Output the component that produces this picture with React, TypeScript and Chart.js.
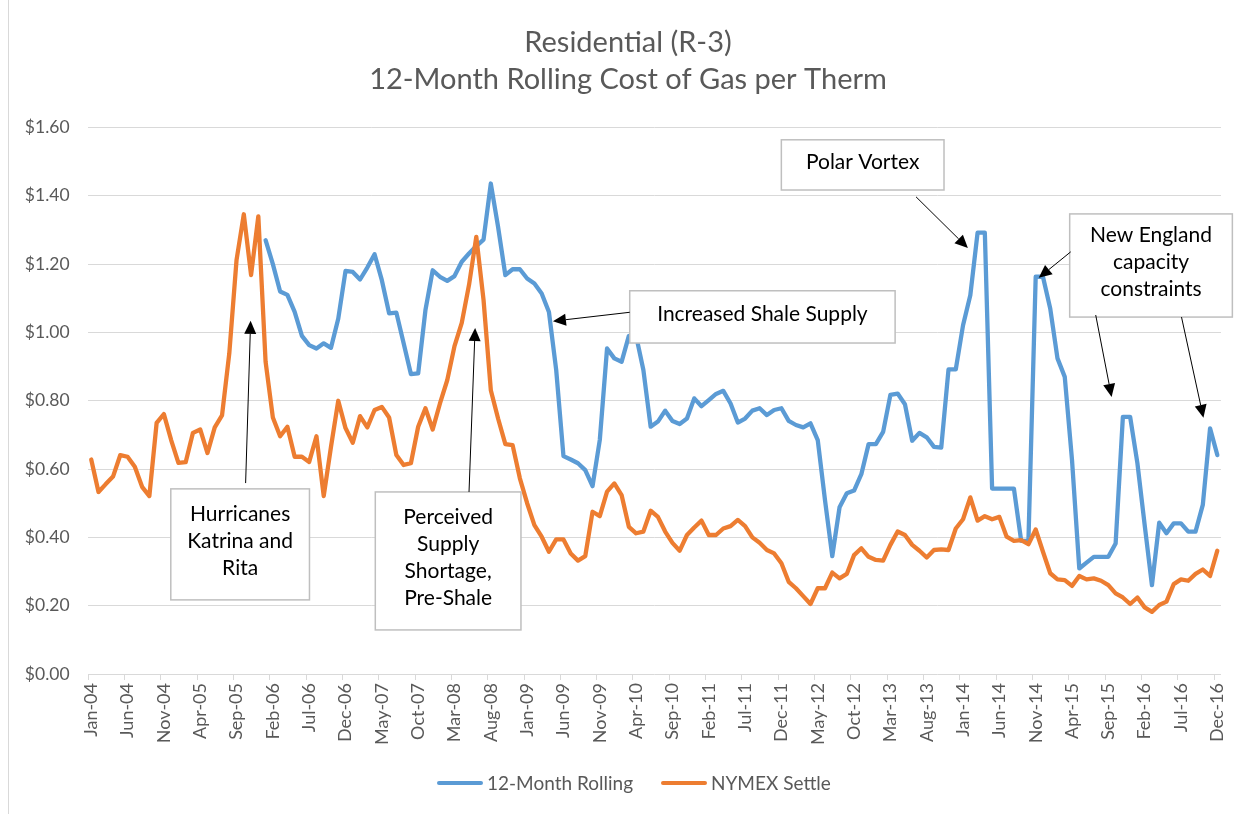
import React, { useEffect, useRef } from 'react';
import { Chart, registerables } from 'chart.js';

Chart.register(...registerables);

// ---------- data ----------
const MONTHS = ['Jan', 'Feb', 'Mar', 'Apr', 'May', 'Jun', 'Jul', 'Aug', 'Sep', 'Oct', 'Nov', 'Dec'];
const YEARS = ['04', '05', '06', '07', '08', '09', '10', '11', '12', '13', '14', '15', '16'];
const CATEGORIES: string[] = YEARS.flatMap((y) => MONTHS.map((m) => `${m}-${y}`));
const TICK_EVERY = 5;

const TITLE_LINES = ['Residential (R-3)', '12-Month Rolling Cost of Gas per Therm'];
const SERIES_NAMES = ['12-Month Rolling', 'NYMEX Settle'];

// 12-Month Rolling (starts Jan-06)
const ROLLING_12M: (number | null)[] = [
  null, null, null, null, null, null, null, null, null, null, null, null,
  null, null, null, null, null, null, null, null, null, null, null, null,
  // 2006
  1.27, 1.20, 1.12, 1.11, 1.06, 0.99, 0.963, 0.953, 0.968, 0.955, 1.04, 1.18,
  // 2007
  1.177, 1.155, 1.19, 1.229, 1.153, 1.056, 1.058, 0.968, 0.878, 0.88, 1.065, 1.182,
  // 2008
  1.163, 1.151, 1.165, 1.207, 1.231, 1.253, 1.272, 1.436, 1.309, 1.168, 1.185, 1.185,
  // 2009
  1.158, 1.143, 1.114, 1.06, 0.89, 0.638, 0.628, 0.617, 0.597, 0.55, 0.685, 0.953,
  // 2010
  0.924, 0.914, 0.99, 0.99, 0.89, 0.724, 0.739, 0.771, 0.741, 0.732, 0.748, 0.807,
  // 2011
  0.784, 0.802, 0.82, 0.829, 0.792, 0.736, 0.748, 0.771, 0.778, 0.758, 0.773, 0.778,
  // 2012
  0.741, 0.729, 0.722, 0.734, 0.685, 0.509, 0.345, 0.488, 0.529, 0.537, 0.585, 0.673,
  // 2013
  0.673, 0.709, 0.817, 0.821, 0.79, 0.683, 0.706, 0.693, 0.665, 0.663, 0.892, 0.892,
  // 2014
  1.021, 1.109, 1.292, 1.292, 0.543, 0.543, 0.543, 0.543, 0.39, 0.39, 1.163, 1.163,
  // 2015
  1.07, 0.924, 0.87, 0.626, 0.309, 0.326, 0.343, 0.343, 0.343, 0.382, 0.753, 0.753,
  // 2016
  0.617, 0.436, 0.26, 0.443, 0.412, 0.441, 0.441, 0.417, 0.417, 0.495, 0.719, 0.641,
];

const NYMEX_SETTLE: number[] = [
  // 2004
  0.628, 0.533, 0.556, 0.578, 0.641, 0.636, 0.607, 0.548, 0.521, 0.735, 0.761, 0.685,
  // 2005
  0.618, 0.62, 0.706, 0.716, 0.647, 0.722, 0.757, 0.938, 1.212, 1.346, 1.168, 1.34,
  // 2006
  0.914, 0.751, 0.696, 0.724, 0.636, 0.636, 0.621, 0.696, 0.521, 0.665, 0.8, 0.72,
  // 2007
  0.677, 0.755, 0.722, 0.773, 0.782, 0.751, 0.641, 0.612, 0.617, 0.724, 0.778, 0.716,
  // 2008
  0.792, 0.86, 0.96, 1.028, 1.139, 1.28, 1.095, 0.831, 0.748, 0.673, 0.67, 0.573,
  // 2009
  0.5, 0.436, 0.402, 0.358, 0.394, 0.394, 0.353, 0.332, 0.345, 0.475, 0.462, 0.534,
  // 2010
  0.558, 0.524, 0.431, 0.412, 0.417, 0.478, 0.46, 0.417, 0.384, 0.361, 0.407, 0.429,
  // 2011
  0.449, 0.407, 0.407, 0.426, 0.433, 0.451, 0.433, 0.4, 0.384, 0.363, 0.353, 0.324,
  // 2012
  0.27, 0.251, 0.228, 0.205, 0.251, 0.251, 0.297, 0.28, 0.293, 0.348, 0.368, 0.343,
  // 2013
  0.334, 0.332, 0.378, 0.417, 0.407, 0.378, 0.361, 0.341, 0.363, 0.365, 0.363, 0.426,
  // 2014
  0.453, 0.517, 0.449, 0.462, 0.453, 0.46, 0.402, 0.39, 0.392, 0.38, 0.423, 0.358,
  // 2015
  0.295, 0.277, 0.275, 0.258, 0.287, 0.277, 0.28, 0.273, 0.26, 0.236, 0.224, 0.205,
  // 2016
  0.224, 0.195, 0.182, 0.202, 0.212, 0.263, 0.277, 0.273, 0.293, 0.306, 0.287, 0.361,
];

const Y_MIN = 0;
const Y_MAX = 1.6;
const Y_STEP = 0.2;

// Annotations anchored in data coordinates (category index, $ value)
type Note = {
  lines: string[];
  box: [number, number, number, number]; // x1, yTop, x2, yBottom
  arrows: [number, number, number, number][]; // fromX, fromY, toX, toY
};
const NOTES: Note[] = [
  { lines: ['Hurricanes', 'Katrina and', 'Rita'], box: [10.95, 0.542, 30.04, 0.217], arrows: [[21.25, 0.559, 21.94, 1.034]] },
  { lines: ['Perceived', 'Supply', 'Shortage,', 'Pre-Shale'], box: [39.1, 0.533, 59.15, 0.129], arrows: [[52.0, 0.533, 52.84, 1.013]] },
  { lines: ['Increased Shale Supply'], box: [74.12, 1.122, 110.65, 0.969], arrows: [[74.12, 1.059, 63.55, 1.033]] },
  { lines: ['Polar Vortex'], box: [94.99, 1.564, 117.38, 1.417], arrows: [[113.53, 1.397, 120.67, 1.247]] },
  {
    lines: ['New England', 'capacity', 'constraints'],
    box: [134.68, 1.347, 157.07, 1.045],
    arrows: [
      [134.82, 1.236, 130.42, 1.16],
      [138.26, 1.051, 140.45, 0.811],
      [150.07, 1.045, 153.09, 0.75],
    ],
  },
];

// ---------- styles ----------
const FONT = 'Lato, "Open Sans", sans-serif';
const BLUE = '#5B9BD5';
const ORANGE = '#ED7D31';
const GRID = '#d9d9d9';
const TEXT = '#595959';

const overlayPlugin = {
  id: 'overlay',
  afterDatasetsDraw(chart: any) {
    const { ctx, chartArea, scales } = chart;
    const xs = scales.x;
    const ys = scales.y;
    const px = (v: number) => xs.getPixelForValue(v);
    const py = (v: number) => ys.getPixelForValue(v);
    ctx.save();

    // x-axis tick marks every 5 categories (between categories)
    const w = (chartArea.right - chartArea.left) / CATEGORIES.length;
    ctx.strokeStyle = GRID;
    ctx.lineWidth = 1;
    for (let k = 0; k <= CATEGORIES.length; k += TICK_EVERY) {
      const x = Math.round(chartArea.left + k * w) + 0.5;
      ctx.beginPath();
      ctx.moveTo(x, chartArea.bottom);
      ctx.lineTo(x, chartArea.bottom + 6);
      ctx.stroke();
    }

    // annotation boxes + arrows
    NOTES.forEach((n) => {
      const x1 = px(n.box[0]);
      const y1 = py(n.box[1]);
      const x2 = px(n.box[2]);
      const y2 = py(n.box[3]);
      ctx.fillStyle = '#ffffff';
      ctx.fillRect(x1, y1, x2 - x1, y2 - y1);
      ctx.strokeStyle = '#bfbfbf';
      ctx.lineWidth = 1.5;
      ctx.strokeRect(x1, y1, x2 - x1, y2 - y1);
      ctx.fillStyle = '#000000';
      ctx.font = `21px ${FONT}`;
      ctx.textAlign = 'center';
      ctx.textBaseline = 'middle';
      const cx = (x1 + x2) / 2;
      const cy = (y1 + y2) / 2 - 3;
      const lh = 27;
      n.lines.forEach((t, i) => {
        ctx.fillText(t, cx, cy + (i - (n.lines.length - 1) / 2) * lh);
      });
      n.arrows.forEach((a) => {
        const fx = px(a[0]);
        const fy = py(a[1]);
        const tx = px(a[2]);
        const ty = py(a[3]);
        const ang = Math.atan2(ty - fy, tx - fx);
        const hl = 13;
        const hw = 6;
        const bx = tx - hl * Math.cos(ang);
        const by = ty - hl * Math.sin(ang);
        ctx.strokeStyle = '#000000';
        ctx.lineWidth = 1;
        ctx.beginPath();
        ctx.moveTo(fx, fy);
        ctx.lineTo(bx, by);
        ctx.stroke();
        ctx.fillStyle = '#000000';
        ctx.beginPath();
        ctx.moveTo(tx, ty);
        ctx.lineTo(bx + hw * Math.sin(ang), by - hw * Math.cos(ang));
        ctx.lineTo(bx - hw * Math.sin(ang), by + hw * Math.cos(ang));
        ctx.closePath();
        ctx.fill();
      });
    });
    ctx.restore();
  },
  afterDraw(chart: any) {
    const { ctx } = chart;
    ctx.save();
    // left chart border
    ctx.strokeStyle = GRID;
    ctx.lineWidth = 1;
    ctx.beginPath();
    ctx.moveTo(8.5, 0);
    ctx.lineTo(8.5, 814);
    ctx.stroke();

    // title
    ctx.fillStyle = TEXT;
    ctx.font = `29px ${FONT}`;
    ctx.textAlign = 'center';
    ctx.textBaseline = 'middle';
    ctx.fillText(TITLE_LINES[0], 628, 43);
    ctx.fillText(TITLE_LINES[1], 628, 80);

    // legend
    const items = [
      { name: SERIES_NAMES[0], color: BLUE, x: 437 },
      { name: SERIES_NAMES[1], color: ORANGE, x: 661 },
    ];
    ctx.font = `19px ${FONT}`;
    ctx.textAlign = 'left';
    items.forEach((it) => {
      ctx.strokeStyle = it.color;
      ctx.lineWidth = 4;
      ctx.lineCap = 'round';
      ctx.beginPath();
      ctx.moveTo(it.x + 2, 783);
      ctx.lineTo(it.x + 44, 783);
      ctx.stroke();
      ctx.fillStyle = TEXT;
      ctx.fillText(it.name, it.x + 50, 784);
    });
    ctx.restore();
  },
};

export default function App() {
  const ref = useRef<HTMLCanvasElement | null>(null);

  useEffect(() => {
    document.body.style.margin = '0';
    const canvas = ref.current;
    if (!canvas) return;
    const chart = new Chart(canvas, {
      type: 'line',
      data: {
        labels: CATEGORIES,
        datasets: [
          {
            label: SERIES_NAMES[0],
            data: ROLLING_12M,
            borderColor: BLUE,
            backgroundColor: BLUE,
            borderWidth: 4.3,
            pointRadius: 0,
            tension: 0,
            borderJoinStyle: 'round',
            borderCapStyle: 'round',
            spanGaps: false,
            order: 1,
          },
          {
            label: SERIES_NAMES[1],
            data: NYMEX_SETTLE,
            borderColor: ORANGE,
            backgroundColor: ORANGE,
            borderWidth: 4.3,
            pointRadius: 0,
            tension: 0,
            borderJoinStyle: 'round',
            borderCapStyle: 'round',
            order: 0,
          },
        ],
      },
      options: {
        responsive: false,
        animation: false,
        devicePixelRatio: 1,
        layout: { padding: { top: 127.5, left: 0, right: 24.5, bottom: 0 } },
        plugins: {
          legend: { display: false },
          title: { display: false },
          tooltip: { enabled: false },
        },
        scales: {
          x: {
            type: 'category',
            offset: true,
            grid: { display: false, drawTicks: false },
            border: { display: false },
            ticks: {
              autoSkip: false,
              maxRotation: 90,
              minRotation: 90,
              padding: 9,
              color: TEXT,
              font: { family: FONT, size: 18 },
              callback: (_v: any, i: number) => (i % TICK_EVERY === 0 ? CATEGORIES[i] : ''),
            },
            afterFit: (s: any) => {
              s.height = 140;
            },
          },
          y: {
            min: Y_MIN,
            max: Y_MAX,
            grid: { color: GRID, lineWidth: 1, drawTicks: false },
            border: { display: false },
            ticks: {
              stepSize: Y_STEP,
              padding: 18,
              color: TEXT,
              font: { family: FONT, size: 17.5 },
              callback: (v: any) => '$' + Number(v).toFixed(2),
            },
            afterFit: (s: any) => {
              s.width = 87.6;
            },
          },
        },
      },
      plugins: [overlayPlugin],
    });
    return () => chart.destroy();
  }, []);

  return <canvas ref={ref} width={1248} height={814} style={{ display: 'block', width: 1248, height: 814 }} />;
}
